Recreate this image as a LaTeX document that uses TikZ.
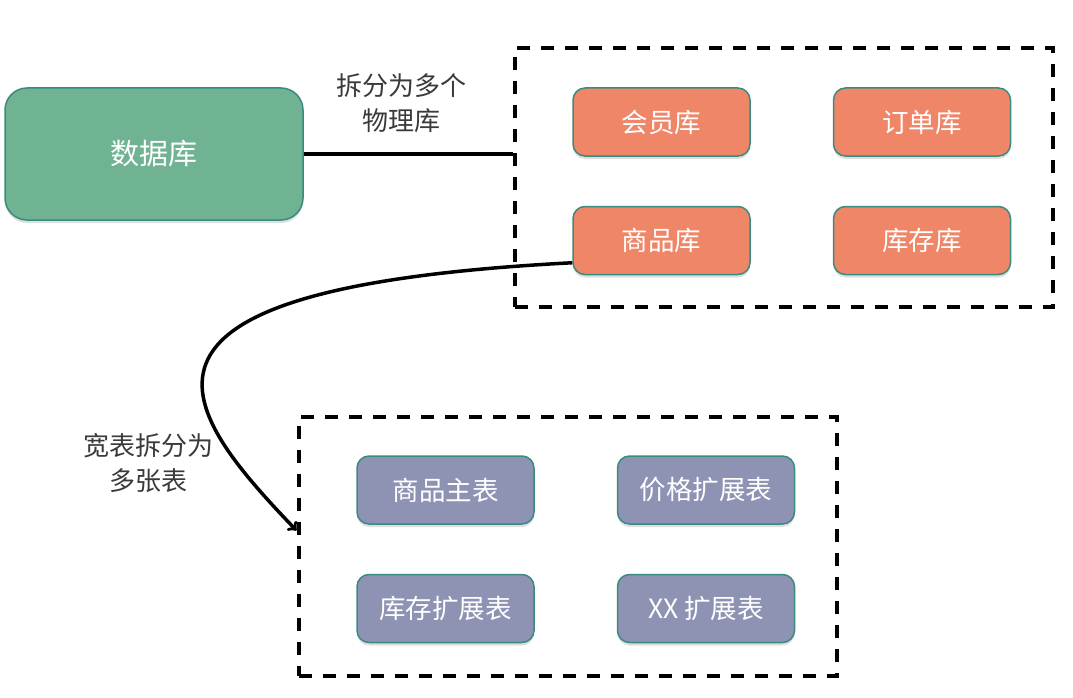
\documentclass[tikz,border=0pt]{standalone}
\usepackage{fontspec}
\setmainfont{Noto Sans CJK SC}
\usetikzlibrary{shapes.geometric, arrows, positioning, shadows}
\definecolor{dbgreen}{HTML}{6FB393}
\definecolor{libred}{HTML}{F08668}
\definecolor{tblblue}{HTML}{8F93B3}
\definecolor{edgeteal}{HTML}{3A8A80}
\definecolor{notegray}{HTML}{3A3A3A}
\tikzstyle{dbnode} = [rectangle, rounded corners=22pt, minimum width=298pt, minimum height=132pt, text centered, draw=edgeteal, line width=1.5pt, fill=dbgreen, text=white, font=\fontsize{29}{33}\selectfont, drop shadow={shadow xshift=0pt, shadow yshift=-3pt, opacity=0.25}]
\tikzstyle{libnode} = [rectangle, rounded corners=12pt, minimum width=177pt, minimum height=68pt, text centered, draw=edgeteal, line width=1.5pt, fill=libred, text=white, font=\fontsize{26.5}{30}\selectfont, drop shadow={shadow xshift=0pt, shadow yshift=-3pt, opacity=0.25}]
\tikzstyle{tblnode} = [libnode, fill=tblblue]
\tikzstyle{groupbox} = [rectangle, draw=black, line width=4pt, dash pattern=on 13pt off 11pt, minimum width=538pt, minimum height=259pt]
\tikzstyle{note} = [align=center, text=notegray, font=\fontsize{26}{35}\selectfont]
\tikzstyle{line} = [line width=3.5pt]
\tikzstyle{arrow} = [line width=3.5pt,->,>=to]

\begin{document}
\begin{tikzpicture}[x=1pt, y=-1pt]
    \useasboundingbox (0,0) rectangle (1073,698);
    \node (db) [dbnode] at (154,154) {数据库};

    % physical databases
    \node (hy) [libnode] at (661.5,122) {会员库};
    \node (dd) [libnode, right=82pt of hy] {订单库};
    \node (sp) [libnode, below=49pt of hy] {商品库};
    \node (kc) [libnode, right=82pt of sp] {库存库};
    \node (phys) [groupbox] at (784,177.5) {};

    % tables
    \node (zb) [tblnode] at (445.5,490) {商品主表};
    \node (jg) [tblnode, right=82pt of zb] {价格扩展表};
    \node (kz) [tblnode, below=49pt of zb] {库存扩展表};
    \node (xx) [tblnode, right=82pt of kz] {XX 扩展表};
    \node (tbls) [groupbox] at (567.5,546.5) {};

    \node (n1) [note] at (401,103) {拆分为多个\\物理库};
    \node (n2) [note] at (148.5,463.5) {宽表拆分为\\多张表};

    \draw [line] (db.east) -- (phys.west |- db.east);
    \draw [arrow] (sp.194) .. controls +(-483,25) and +(-120,-125) .. ([yshift=16pt]tbls.west);
\end{tikzpicture}
\end{document}
